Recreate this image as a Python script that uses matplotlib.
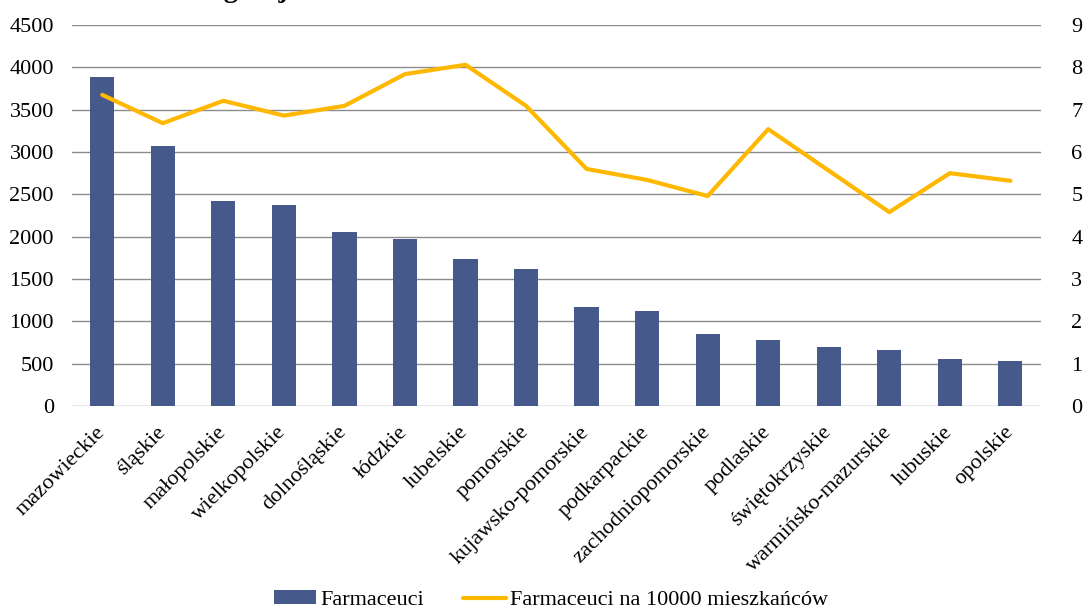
import numpy as np
import matplotlib
matplotlib.use("Agg")
import matplotlib.pyplot as plt
import matplotlib.transforms as mtransforms

plt.rcParams['font.family'] = ['Liberation Serif', 'DejaVu Serif']

# data
regions = ['mazowieckie', 'śląskie', 'małopolskie', 'wielkopolskie', 'dolnośląskie',
           'łódzkie', 'lubelskie', 'pomorskie', 'kujawsko-pomorskie', 'podkarpackie',
           'zachodniopomorskie', 'podlaskie', 'świętokrzyskie', 'warmińsko-mazurskie',
           'lubuskie', 'opolskie']
pharmacists = [3890, 3070, 2420, 2375, 2055, 1970, 1735, 1615, 1170, 1125,
               850, 780, 700, 662, 558, 532]
per_10000 = [7.35, 6.68, 7.21, 6.86, 7.09, 7.84, 8.06, 7.09, 5.60, 5.34,
             4.96, 6.54, 5.56, 4.58, 5.50, 5.32]

bar_color = '#46598B'
line_color = '#FFB800'

fig = plt.figure(figsize=(10.89, 6.10), dpi=100)
ax = fig.add_axes([0.0661, 0.3344, 0.8895, 0.6246])
ax2 = ax.twinx()

x = np.arange(len(regions))
ax.bar(x, pharmacists, width=0.4, color=bar_color, label='Farmaceuci', zorder=3)
ax2.plot(x, per_10000, color=line_color, lw=3.0, solid_capstyle='round',
         label='Farmaceuci na 10000 mieszkańców', zorder=4)

ax.set_xlim(-0.5, len(regions) - 0.5)
ax.set_ylim(0, 4500)
ax.set_yticks(range(0, 4501, 500))
ax2.set_ylim(0, 9)
ax2.set_yticks(range(0, 10))

ax.grid(axis='y', color='#8C8C8C', lw=1.0, zorder=0)
ax.set_axisbelow(True)
for a in (ax, ax2):
    for s in a.spines.values():
        s.set_visible(False)
    a.tick_params(length=0, labelsize=16)
ax.tick_params(axis='y', pad=13)
ax2.tick_params(axis='y', pad=22)

ax.set_xticks(x)
ax.set_xticklabels(regions, rotation=45, ha='right', rotation_mode='anchor', fontsize=16)
ax.tick_params(axis='x', pad=12)
shift = mtransforms.ScaledTranslation(-7 / 100, 0, fig.dpi_scale_trans)
for lbl in ax.get_xticklabels():
    lbl.set_transform(lbl.get_transform() + shift)

# title is clipped at the top of the reference, only descenders show
fig.text(0.005, 1.0 + 3 / 610, 'Farmaceuci według województw', fontsize=20,
         fontweight='bold', va='baseline', ha='left')

h1, l1 = ax.get_legend_handles_labels()
h2, l2 = ax2.get_legend_handles_labels()
fig.legend(h1 + h2, l1 + l2, loc='center', bbox_to_anchor=(0.506, 0.016), ncol=2,
           frameon=False, fontsize=16, handlelength=1.9, handletextpad=0.22,
           columnspacing=1.75, handleheight=0.6)

fig.savefig('out.png', dpi=100)
